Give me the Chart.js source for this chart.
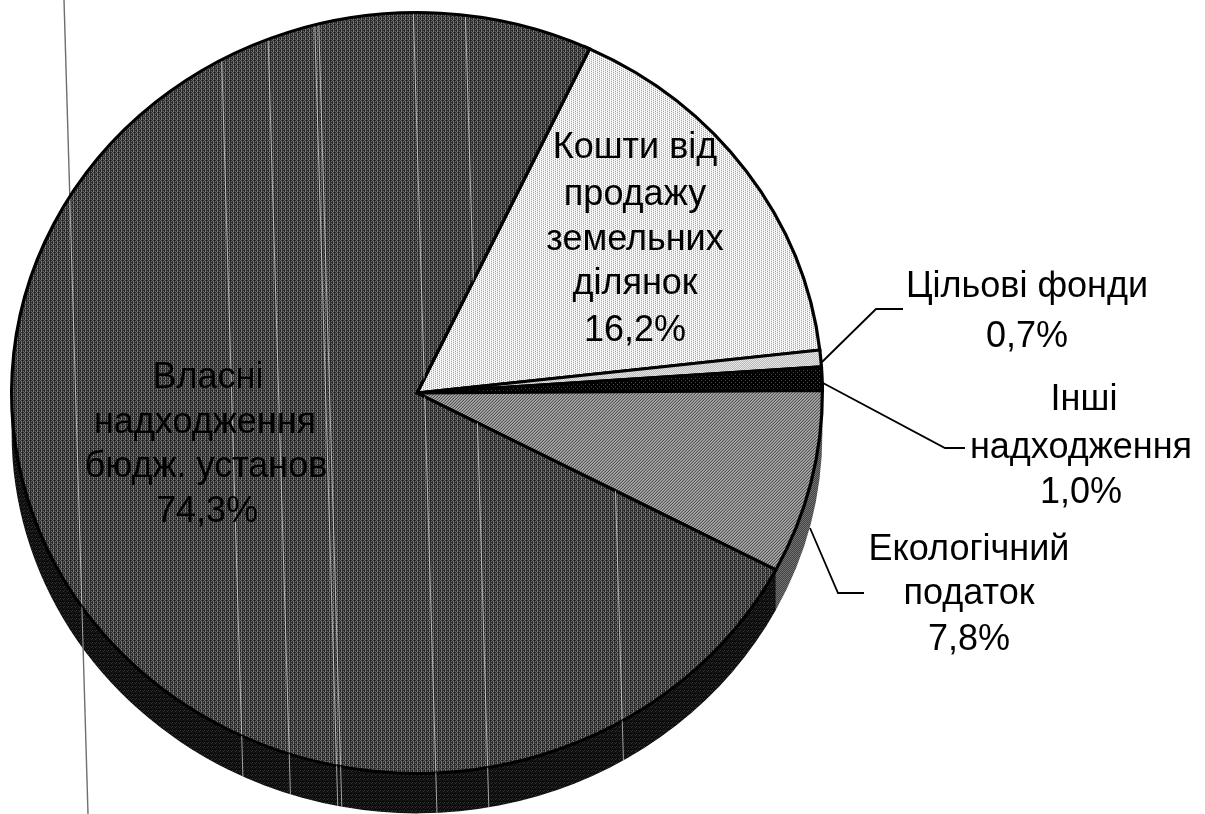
<!DOCTYPE html>
<html lang="uk">
<head>
<meta charset="utf-8">
<title>Структура надходжень</title>
<script src="https://cdn.jsdelivr.net/npm/chart.js@4"></script>
<style>
  html, body { margin: 0; padding: 0; background: #fff; }
  canvas { display: block; }
</style>
</head>
<body>
<canvas id="pieChart" width="1205" height="814"></canvas>
<script>
const categories = ['Кошти від продажу земельних ділянок', 'Цільові фонди', 'Інші надходження', 'Екологічний податок', 'Власні надходження бюдж. установ'];
const shares = [16.2, 0.7, 1.0, 7.8, 74.3];

// where the pie sits on the page: tilted look is just a squashed circle plus a side band
const centerY = 393;
const squash = 380 / 405;
const depth = 40;

const labelFont = '36px "Liberation Sans", Arial, sans-serif';
const labels = [
    { x: 635, y: 158, text: 'Кошти від' },
    { x: 635, y: 205, text: 'продажу' },
    { x: 635, y: 250, text: 'земельних' },
    { x: 635, y: 294, text: 'ділянок' },
    { x: 635, y: 341, text: '16,2%' },
    { x: 1027, y: 297, text: 'Цільові фонди' },
    { x: 1027, y: 347, text: '0,7%' },
    { x: 1084, y: 410, text: 'Інші' },
    { x: 1081, y: 458, text: 'надходження' },
    { x: 1081, y: 503, text: '1,0%' },
    { x: 969, y: 560, text: 'Екологічний' },
    { x: 969, y: 604, text: 'податок' },
    { x: 969, y: 650, text: '7,8%' },
    { x: 208, y: 388, text: 'Власні' },
    { x: 205, y: 433, text: 'надходження' },
    { x: 206, y: 477, text: 'бюдж. установ' },
    { x: 207, y: 522, text: '74,3%' }
];
const leaders = [
    [[822, 362], [876, 309], [903, 309]],
    [[823, 383], [945, 448], [965, 448]],
    [[810, 528], [838, 593], [864, 593]]
];

// scanner streaks, x where they would meet the top of the page
const streaks = [64, 220, 267, 314, 318, 413, 465, 601];
const streakLean = 0.0295;

function makePattern(rows, colours) {
    const tile = document.createElement('canvas');
    tile.width = rows[0].length;
    tile.height = rows.length;
    const t = tile.getContext('2d');
    rows.forEach((row, y) => {
        [...row].forEach((c, x) => {
            t.fillStyle = colours[c];
            t.fillRect(x, y, 1, 1);
        });
    });
    const pattern = document.createElement('canvas').getContext('2d').createPattern(tile, 'repeat');
    // the pie is drawn under a y squash, undo it so the tile stays pixel sharp
    pattern.setTransform(new DOMMatrix().scale(1, 1 / squash));
    return pattern;
}

const ctx = document.getElementById('pieChart').getContext('2d');

const faceFills = [
    makePattern(['aaab', 'abaa', 'aaab', 'abaa'], { a: '#f8f8f8', b: '#9a9a9a' }),
    makePattern(['ab', 'ba'], { a: '#b4b4b4', b: '#ececec' }),
    makePattern(['aaaa', 'abaa', 'aaaa', 'aaab'], { a: '#000000', b: '#555555' }),
    makePattern(['abc', 'bca', 'cab'], { a: '#4c4c4c', b: '#b8b8b8', c: '#8c8c8c' }),
    makePattern(['abac', 'cada', 'abac', 'dcaa'], { a: '#2e2e2e', b: '#8c8c8c', c: '#6c6c6c', d: '#1c1c1c' })
];
const sideFills = [
    '#000000',
    '#000000',
    '#000000',
    makePattern(['ab', 'ba'], { a: '#3a3a3a', b: '#7c7c7c' }),
    makePattern(['aaab', 'acaa', 'aaaa', 'baca'], { a: '#0c0c0c', b: '#383838', c: '#262626' })
];

const tiltPlugin = {
    id: 'tilt',
    beforeDatasetsDraw(chart) {
        const c = chart.ctx;
        const arcs = chart.getDatasetMeta(0).data;
        const { x, y } = arcs[0];

        // the thin page line runs behind the pie
        c.save();
        c.strokeStyle = '#6e6e6e';
        c.lineWidth = 1.4;
        c.beginPath();
        c.moveTo(streaks[0], 0);
        c.lineTo(streaks[0] + streakLean * 814, 814);
        c.stroke();
        c.restore();

        c.save();
        c.translate(x, centerY);
        c.scale(1, squash);
        c.translate(-x, -y);

        // side band, only the part of each slice facing down
        const drop = depth / squash;
        arcs.forEach((arc, i) => {
            const from = Math.max(arc.startAngle, 0);
            const to = Math.min(arc.endAngle, Math.PI);
            if (to <= from) return;
            c.beginPath();
            c.arc(x, y + drop, arc.outerRadius, from, to);
            c.arc(x, y, arc.outerRadius, to, from, true);
            c.closePath();
            c.fillStyle = sideFills[i];
            c.fill();
        });
    },
    afterDatasetsDraw(chart) {
        const c = chart.ctx;
        const arcs = chart.getDatasetMeta(0).data;
        const big = arcs[arcs.length - 1];
        const { x, y, outerRadius } = big;
        const drop = depth / squash;

        // clip to big slice + band while still squashed, then paint streaks flat
        c.beginPath();
        c.moveTo(x, y);
        c.arc(x, y, outerRadius - 1.5, big.startAngle, big.endAngle);
        c.closePath();
        c.moveTo(x + outerRadius * Math.cos(big.startAngle), y + outerRadius * Math.sin(big.startAngle));
        c.arc(x, y + drop, outerRadius, big.startAngle, Math.PI);
        c.arc(x, y, outerRadius, Math.PI, big.startAngle, true);
        c.closePath();
        c.clip();
        c.setTransform(1, 0, 0, 1, 0, 0);
        c.strokeStyle = 'rgba(225,225,225,0.7)';
        c.lineWidth = 1;
        streaks.forEach(s => {
            c.beginPath();
            c.moveTo(s, 0);
            c.lineTo(s + streakLean * 814, 814);
            c.stroke();
        });
        c.restore();

        c.save();
        c.strokeStyle = '#000';
        c.lineWidth = 1.8;
        leaders.forEach(pts => {
            c.beginPath();
            pts.forEach((p, i) => i ? c.lineTo(p[0], p[1]) : c.moveTo(p[0], p[1]));
            c.stroke();
        });
        c.fillStyle = '#000';
        c.font = labelFont;
        c.textAlign = 'center';
        c.textBaseline = 'alphabetic';
        labels.forEach(l => c.fillText(l.text, l.x, l.y));
        c.restore();
    }
};

new Chart(ctx, {
    type: 'pie',
    data: {
        labels: categories,
        datasets: [{
            data: shares,
            backgroundColor: faceFills,
            borderColor: '#000',
            borderWidth: 3.2,
            borderJoinStyle: 'miter',
            clip: false
        }]
    },
    options: {
        responsive: false,
        animation: false,
        rotation: 25.2,
        layout: { padding: { left: 0, right: 371, top: 0, bottom: 0 } },
        plugins: {
            legend: { display: false },
            tooltip: { enabled: false }
        },
        events: []
    },
    plugins: [tiltPlugin]
});
</script>
</body>
</html>
